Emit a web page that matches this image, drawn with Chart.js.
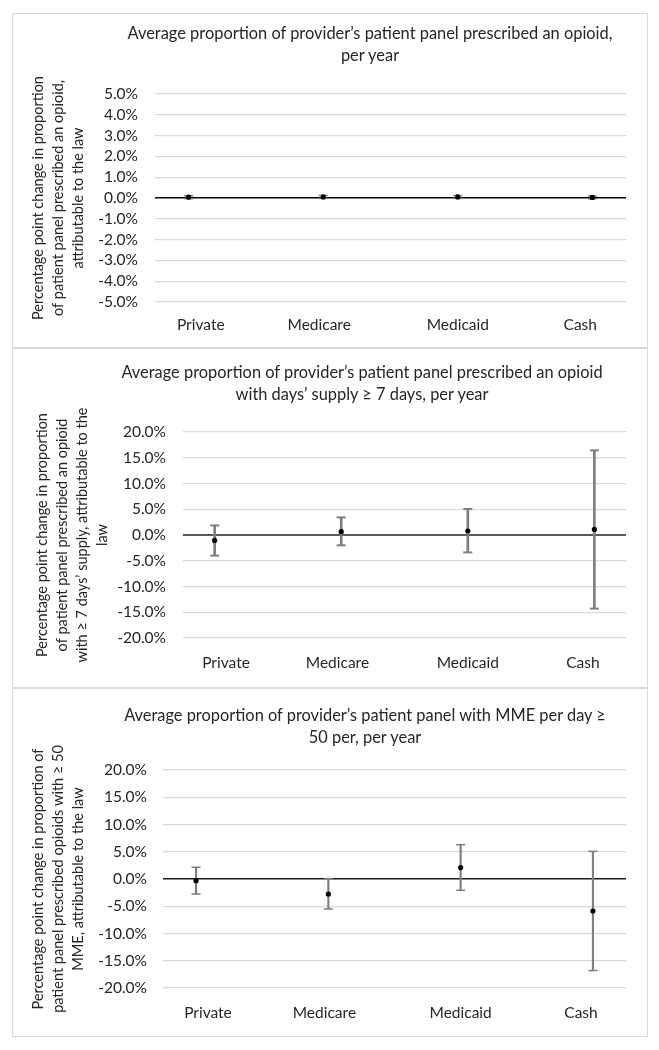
<!DOCTYPE html>
<html>
<head>
<meta charset="utf-8">
<script src="https://cdn.jsdelivr.net/npm/chart.js@4.4.0/dist/chart.umd.min.js"></script>
<style>
  html, body { margin:0; padding:0; background:#fff; }
  .panel { position:absolute; left:12px; width:636px; border:1px solid #d9d9d9; box-sizing:border-box; background:#fff; }
  .panel canvas { display:block; }
  .title { position:absolute; width:600px; text-align:center; font-family:Lato, "Open Sans", sans-serif; font-size:16.4px; line-height:22px; color:#262626; z-index:2; }
</style>
</head>
<body>
<div class="panel" style="top:13px;height:335px"><canvas id="c1" width="634" height="333"></canvas></div>
<div class="panel" style="top:348px;height:340px"><canvas id="c2" width="634" height="338"></canvas></div>
<div class="panel" style="top:688px;height:349px"><canvas id="c3" width="634" height="347"></canvas></div>
<div class="title" style="left:70px;top:22px">Average proportion of provider’s patient panel prescribed an opioid,<br>per year</div>
<div class="title" style="left:62px;top:361px">Average proportion of provider’s patient panel prescribed an opioid<br>with days’ supply ≥ 7 days, per year</div>
<div class="title" style="left:65px;top:704px">Average proportion of provider’s patient panel with MME per day ≥<br>50 per, per year</div>
<script>
// payer categories, plotted at x = 1..4
var categories = ['Private', 'Medicare', 'Medicaid', 'Cash'];
var categoryX = [1, 2, 3, 4];
var labelX = [1.09, 1.97, 3.0, 3.91]; // where the category names sit under the points

// panel 1: any opioid
var anyEst  = [0.0004, 0.0005, 0.0005, 0.0003];
var anyLow  = [-0.0003, -0.0002, -0.0002, -0.0004];
var anyHigh = [0.0011, 0.0012, 0.0012, 0.0010];

// panel 2: days' supply >= 7
var daysEst  = [-0.0105, 0.0064, 0.0078, 0.0109];
var daysLow  = [-0.0400, -0.0200, -0.0338, -0.1430];
var daysHigh = [0.0186, 0.0342, 0.0505, 0.1643];

// panel 3: MME per day >= 50
var mmeEst  = [-0.0030, -0.0275, 0.0209, -0.0587];
var mmeLow  = [-0.0275, -0.0550, -0.0207, -0.1680];
var mmeHigh = [0.0215, 0.0007, 0.0630, 0.0508];

var fontFamily = 'Lato, "Open Sans", sans-serif';
var textColor = '#262626';

function pct(v){ if (Math.abs(v) < 1e-9) v = 0; return (v * 100).toFixed(1) + '%'; }

function makeChart(p){
  var pts = categoryX.map(function(x, i){ return {x:x, y:p.est[i]}; });
  var bars = categoryX.map(function(x, i){ return {x:x, y:[p.low[i], p.high[i]]}; });
  var caps = [];
  categoryX.forEach(function(x, i){ caps.push({x:x, y:p.low[i]}); caps.push({x:x, y:p.high[i]}); });
  var isZero = function(c){ return Math.abs(c.tick.value) < 1e-9; };

  new Chart(document.getElementById(p.id), {
    type:'scatter',
    data:{ datasets:[
      { label:'Estimate', data:pts, pointRadius:2.6, pointBackgroundColor:'#000', pointBorderWidth:0 },
      { label:'CI caps', data:caps, pointStyle:'line', pointRadius:4.5, pointBorderColor:p.barColor, pointBorderWidth:p.barWidth },
      { type:'bar', label:'95% CI', data:bars, backgroundColor:p.barColor, barThickness:p.barWidth, borderWidth:0 }
    ]},
    options:{
      responsive:false, animation:false,
      layout:{ padding:{ top:p.top, right:21, bottom:0, left:0 } },
      plugins:{ legend:{ display:false }, tooltip:{ enabled:false }, title:{ display:false } },
      scales:{
        x:{ type:'linear', min:0.75, max:4.25, offset:false,
          grid:{ display:false, drawTicks:false, offset:false }, border:{ display:false },
          afterBuildTicks:function(s){ s.ticks = labelX.map(function(v){ return {value:v}; }); },
          afterFit:function(s){ s.height = p.bottom; },
          ticks:{ padding:p.padX, autoSkip:false, maxRotation:0, color:textColor, font:{ family:fontFamily, size:15.5 },
            callback:function(v, i){ return categories[i]; } } },
        y:{ min:p.yMin, max:p.yMax, border:{ display:false },
          grid:{ drawTicks:false,
            color:function(c){ return isZero(c) ? p.zeroColor : '#d9d9d9'; },
            lineWidth:function(c){ return isZero(c) ? p.zeroWidth : 1.2; } },
          afterFit:function(s){ s.width = p.left; },
          ticks:{ stepSize:p.step, autoSkip:false, padding:p.padY, color:textColor, font:{ family:fontFamily, size:15.5 }, callback:pct },
          title:{ display:true, text:p.yTitle, color:textColor, font:{ family:fontFamily, size:14.5, lineHeight:20/14.5 }, padding:{ top:p.yTitleTop, bottom:0 } } }
      }
    }
  });
}

makeChart({ id:'c1',
  yTitle:['Percentage point change in proportion', 'of patient panel prescribed an opioid,', 'attributable to the law'],
  est:anyEst, low:anyLow, high:anyHigh, yMin:-0.05, yMax:0.05, step:0.01,
  zeroColor:'#000', zeroWidth:1.5, barColor:'#7f7f7f', barWidth:1.5,
  top:80, left:142, bottom:45, padX:14, padY:17, yTitleTop:15 });

makeChart({ id:'c2',
  yTitle:['Percentage point change in proportion', 'of patient panel prescribed an opioid', 'with \u2265 7 days\u2019 supply, attributable to the', 'law'],
  est:daysEst, low:daysLow, high:daysHigh, yMin:-0.2, yMax:0.2, step:0.05,
  zeroColor:'#595959', zeroWidth:2, barColor:'#7f7f7f', barWidth:2,
  top:83, left:170, bottom:49, padX:16, padY:17, yTitleTop:19 });

makeChart({ id:'c3',
  yTitle:['Percentage point change in proportion of', 'patient panel prescribed opioids with \u2265 50', 'MME, attributable to the law'],
  est:mmeEst, low:mmeLow, high:mmeHigh, yMin:-0.2, yMax:0.2, step:0.05,
  zeroColor:'#1a1a1a', zeroWidth:1.5, barColor:'#7f7f7f', barWidth:1.5,
  top:81, left:150, bottom:48, padX:16, padY:16, yTitleTop:15 });
</script>
</body>
</html>
